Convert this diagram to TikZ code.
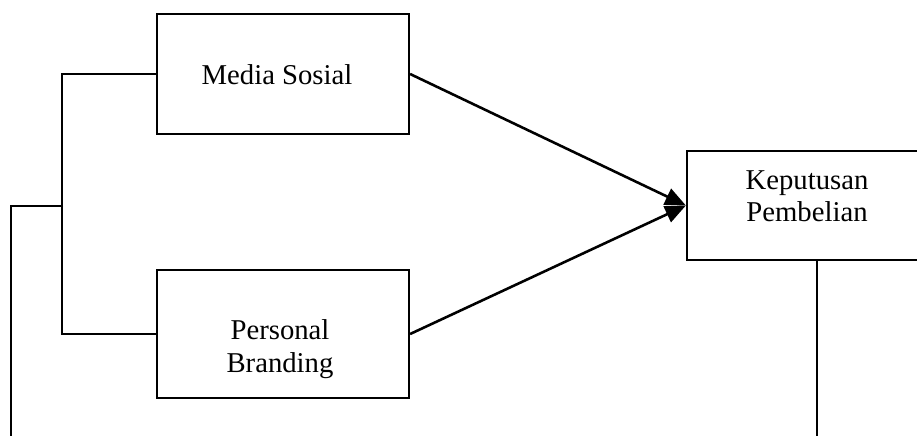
\documentclass[tikz,border=0pt]{standalone}
\usepackage{fontspec}
\setmainfont{Liberation Serif}
\usepackage{tikz}
\usetikzlibrary{arrows.meta,positioning,calc}

\begin{document}
\begin{tikzpicture}[x=0.03cm, y=-0.03cm, line width=1.9pt, font=\fontsize{24.5}{27.6}\selectfont]
\tikzstyle{box}=[draw=black,line width=1.9pt,inner sep=0pt]
\tikzstyle{txt}=[align=center,inner sep=0pt]
\tikzstyle{arr}=[line width=2.2pt,-{Triangle[length=0.62cm,width=0.52cm]}]
\clip (0,0) rectangle (917,436);

\node[box,minimum width=7.56cm,minimum height=3.6cm]  (MS) at (283,74)    {};
\node[box,minimum width=7.56cm,minimum height=3.84cm] (PB) at (283,334)   {};
\node[box,minimum width=7.2cm,minimum height=3.27cm]  (KP) at (807,205.5) {};

\node[txt] (MSt) at (277,74.2) {Media Sosial};
\node[txt] (PBt) at (280,349)  {Personal\\Branding};
\node[txt] (KPt) at (807,196)  {Keputusan\\Pembelian};

\coordinate (J)  at (63,206);
\coordinate (F)  at (11,436);
\coordinate (KB) at (817,436);

\draw (MS.west) -- ++(-94,0) |- (PB.west);
\draw (J) -| (F);
\draw (KB |- KP.south) -- (KB);

\path
(MS.east) edge[arr] (KP.west)
(PB.east) edge[arr] (KP.west);
\end{tikzpicture}
\end{document}
